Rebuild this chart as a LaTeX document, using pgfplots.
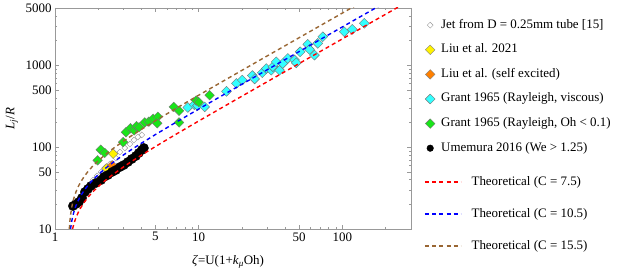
\documentclass[border=0pt]{standalone}
\usepackage{fontspec}
\setmainfont{Liberation Serif}
\usepackage{pgfplots}
\pgfplotsset{compat=1.18}
\definecolor{mred}{rgb}{1,0,0}
\definecolor{mblue}{rgb}{0,0,1}
\definecolor{mbrown}{rgb}{0.6,0.4,0.2}
\definecolor{mgreen}{rgb}{0.1,0.9,0.1}
\definecolor{mcyan}{rgb}{0.2,1,1}
\definecolor{myellow}{rgb}{1,0.95,0}
\definecolor{morange}{rgb}{1,0.5,0}
\begin{document}
\begin{tikzpicture}[font=\fontsize{13}{15}\selectfont]
\begin{axis}[xmode=log, ymode=log, xmin=1, xmax=300, ymin=10, ymax=5000,
  width=356bp, height=221bp, scale only axis, at={(0,0)}, anchor=south west,
  axis line style={black!40}, tick style={black!40, line width=0.5pt},
  major tick length=4bp, minor tick length=2.5bp,
  xtick={1,5,10,50,100}, xticklabels={1,5,10,50,100},
  minor xtick={2,3,4,6,7,8,9,20,30,40,60,70,80,90,200,300},
  ytick={10,50,100,500,1000,5000}, yticklabels={10,50,100,500,1000,5000},
  minor ytick={20,30,40,60,70,80,90,200,300,400,600,700,800,900,2000,3000,4000},
  /pgf/number format/assume math mode=true,
  xlabel={\textit{ζ}=U(1+\textit{k}\textsubscript{\textit{μ}}Oh)},
  ylabel={\textit{L}\textsubscript{\textit{j}}/\textit{R}},
  xlabel style={at={(axis description cs:0.486,-0.149)}, anchor=center},
  ylabel style={at={(axis description cs:-0.1208,0.5)}, anchor=center},
  legend style={at={(1,1)}, anchor=north west, xshift=14bp, yshift=-11bp, draw=none, fill=none,
    inner sep=0pt, row sep=12.6bp, nodes={inner sep=0pt, text height=9bp, text depth=3bp},
    /tikz/every odd column/.append style={column sep=6bp}},
  legend cell align=left,
  legend image code/.code={\path[draw=none, fill=none] (-5bp,-5bp) rectangle (5bp,5bp); \draw[#1] plot coordinates {(0bp,0bp)};},
]
\addplot[only marks, mark=square*, draw=black!40, fill=white, mark size=2.1, mark options={rotate=45, line width=0.4bp}] table {
1.84 39.6
1.96 44.4
2.09 49.6
2.22 55.6
2.41 62.2
2.65 73.6
2.83 87.1
3.06 97.5
3.32 109
3.54 122
3.77 133
4.02 141
};
\addlegendentry{Jet from D = 0.25mm tube [15]}
\addplot[only marks, mark=square*, draw=black!50, fill=myellow, mark size=3.4, mark options={rotate=45, line width=0.4bp}] table {
2.28 55
2.54 83
};
\addlegendentry{Liu et al. 2021}
\addplot[only marks, mark=square*, draw=black!50, fill=morange, mark size=3.4, mark options={rotate=45, line width=0.4bp}] table {
2.5 60
};
\addlegendentry{Liu et al. (self excited)}
\addplot[only marks, mark=square*, draw=black!55, fill=mcyan, mark size=3.5, mark options={rotate=45, line width=0.4bp}] table {
8.4 305
9.3 330
9.8 320
11.0 310
15.6 480
18.3 600
20.1 660
23.6 750
24.5 680
27.7 810
29.5 910
32.0 870
32.8 960
34.6 1100
36.5 870
38.5 1050
41.7 1210
46.4 1160
47.7 1070
50.8 1460
57.4 1800
59.0 1560
63.9 1330
67.4 1850
73.0 2230
103 2560
117 2740
142 3250
};
\addlegendentry{Grant 1965 (Rayleigh, viscous)}
\addplot[only marks, mark=square*, draw=black!55, fill=mgreen, mark size=3.4, mark options={rotate=45, line width=0.4bp}] table {
1.98 69
2.08 93
2.22 85
2.98 115
3.12 152
3.35 170
3.55 160
3.69 180
3.85 175
4.21 200
4.5 205
4.82 222
5.2 235
5.15 195
6.7 310
7.3 278
7.3 200
9.6 370
10.0 355
11.9 430
};
\addlegendentry{Grant 1965 (Rayleigh, Oh < 0.1)}
\addplot[only marks, mark=*, draw=black, fill=black, mark size=4.7,
  legend image code/.code={\path[draw=none, fill=none] (-5bp,-5bp) rectangle (5bp,5bp); \fill[black] (0bp,0bp) circle[radius=3.3bp];}] table {
1.334 19.1
1.40 20.2
1.468 21.4
1.54 23.9
1.616 28.3
1.694 30.8
1.778 33.5
1.926 36.5
2.09 39.6
2.19 43.2
2.33 45.6
2.49 49.6
2.65 52.5
2.83 57.1
3.01 60.4
3.21 65.7
3.42 71.6
3.65 77.8
3.83 84.7
4.02 92.2
4.15 97.5
};
\addlegendentry{Umemura 2016 (We > 1.25)}
\end{axis}
\begin{axis}[xmode=log, ymode=log, xmin=1, xmax=300, ymin=10, ymax=5000,
  width=356bp, height=221bp, scale only axis, at={(0,0)}, anchor=south west,
  hide axis,
  legend style={at={(1,1)}, anchor=north west, xshift=13bp, yshift=-168bp, draw=none, fill=none,
    inner sep=0pt, row sep=20bp, nodes={inner sep=0pt, text height=9bp, text depth=3bp},
    /tikz/every odd column/.append style={column sep=10bp}},
  legend cell align=left,
  legend image code/.code={\draw[#1] (0bp,0bp) -- (36bp,0bp);},
]
\addplot[mred, line width=1.4bp, dash pattern=on 4bp off 3.2bp] table {
1.3256 10.0
1.34 10.82
1.37 12.37
1.4 13.78
1.45 15.89
1.5 17.83
1.6 21.3
1.7 24.49
1.8 27.5
2 33.0
2.2 38.2
2.5 45.6
3 57.4
3.5 68.8
4 79.9
5 101.7
7 144.7
10 208.4
15 313.9
20 419.2
30 629.5
50 1049.7
70 1469.8
100 2099.8
150 3150
200 4200
250 5250
};
\addlegendentry{Theoretical (C = 7.5)}
\addplot[mblue, line width=1.4bp, dash pattern=on 4bp off 3.2bp] table {
1.2828 10.0
1.29 10.77
1.3 11.76
1.32 13.55
1.35 15.90
1.4 19.28
1.45 22.24
1.5 24.95
1.6 29.84
1.7 34.28
1.8 38.45
2 46.2
2.2 53.5
2.5 63.9
3 80.4
3.5 96.3
4 111.8
5 142.4
7 202.6
10 291.7
15 439.5
20 586.9
30 881.3
50 1469.6
70 2057.7
100 2939.8
150 4410
200 5880
};
\addlegendentry{Theoretical (C = 10.5)}
\addplot[mbrown, line width=1.4bp, dash pattern=on 4bp off 3.2bp] table {
1.2582 10.0
1.262 10.86
1.27 12.50
1.28 14.29
1.3 17.36
1.32 20.0
1.35 23.47
1.4 28.46
1.45 32.84
1.5 36.82
1.6 44.05
1.7 50.6
1.8 56.75
2 68.2
2.2 78.9
2.5 94.3
3 118.6
3.5 142.1
4 165.1
5 210.3
7 299.0
10 430.7
15 648.8
20 866.4
30 1300.9
50 2169.3
70 3037.5
100 4339.7
150 6510
};
\addlegendentry{Theoretical (C = 15.5)}
\end{axis}
\pgfresetboundingbox
\path[use as bounding box] (-55bp,-45bp) rectangle (568bp,229bp);
\end{tikzpicture}
\end{document}
